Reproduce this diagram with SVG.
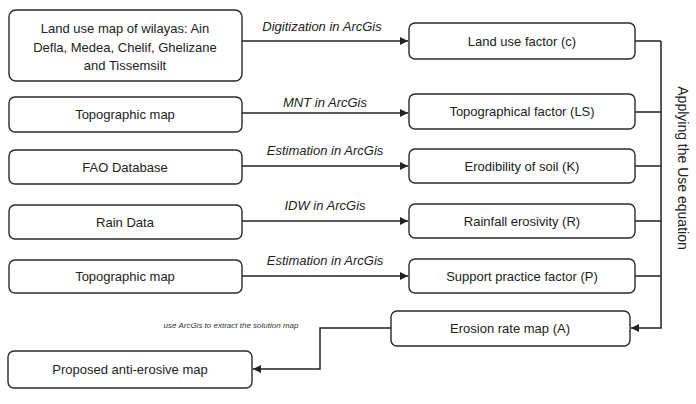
<svg xmlns="http://www.w3.org/2000/svg" width="696" height="404" viewBox="0 0 696 404">
<defs>
<style>
.box{fill:#fff;stroke:#2a2a2a;stroke-width:1.4}
.t{font-family:"Liberation Sans",Arial,sans-serif;font-size:13px;fill:#222;text-anchor:middle}
.lbl{font-family:"Liberation Sans",Arial,sans-serif;font-size:13px;font-style:italic;fill:#222;text-anchor:middle}
.small{font-family:"Liberation Sans",Arial,sans-serif;font-size:8px;font-style:italic;fill:#333;text-anchor:middle}
.c{fill:none;stroke:#222;stroke-width:1.5}
</style>
<marker id="arr" viewBox="0 0 10 10" refX="10" refY="5" markerWidth="8" markerHeight="8" markerUnits="userSpaceOnUse" orient="auto">
<path d="M0,0 L10,5 L0,10 z" fill="#222"/>
</marker>
</defs>
<rect width="696" height="404" fill="#fff"/>
<g id="connectors">
<line class="c" x1="242" y1="41" x2="408" y2="41" marker-end="url(#arr)"/>
<line class="c" x1="242" y1="113" x2="408" y2="113" marker-end="url(#arr)"/>
<line class="c" x1="242" y1="166" x2="408" y2="166" marker-end="url(#arr)"/>
<line class="c" x1="242" y1="221" x2="408" y2="221" marker-end="url(#arr)"/>
<line class="c" x1="242" y1="276" x2="408" y2="276" marker-end="url(#arr)"/>
<path class="c" d="M635,41 H661 M635,112 H661 M635,166 H661 M635,221 H661 M635,276 H661"/>
<path class="c" d="M661,41 V328 H631" marker-end="url(#arr)"/>
<path class="c" d="M391,328 H320 V369 H253" marker-end="url(#arr)"/>
<text class="lbl" x="322" y="31">Digitization in ArcGis</text>
<text class="lbl" x="325" y="107">MNT in ArcGis</text>
<text class="lbl" x="325" y="155">Estimation in ArcGis</text>
<text class="lbl" x="325" y="210">IDW in ArcGis</text>
<text class="lbl" x="325" y="265">Estimation in ArcGis</text>
<text class="small" x="231" y="328">use ArcGis to extract the solution map</text>
<text transform="translate(678,168) rotate(90)" font-family="Liberation Sans, Arial, sans-serif" font-size="14" fill="#222" text-anchor="middle">Applying the Use equation</text>
</g>
<g id="n-landuse-map">
<rect class="box" x="9" y="10" width="233" height="71" rx="7"/>
<text class="t" x="125" y="33">Land use map of wilayas: Ain</text>
<text class="t" x="125" y="52">Defla, Medea, Chelif, Ghelizane</text>
<text class="t" x="125" y="70">and Tissemsilt</text>
</g>
<g id="n-topo1">
<rect class="box" x="9" y="97" width="233" height="35" rx="6"/>
<text class="t" x="125" y="119">Topographic map</text>
</g>
<g id="n-fao">
<rect class="box" x="9" y="150" width="233" height="34" rx="6"/>
<text class="t" x="125" y="172">FAO Database</text>
</g>
<g id="n-rain">
<rect class="box" x="9" y="205" width="233" height="34" rx="6"/>
<text class="t" x="125" y="227">Rain Data</text>
</g>
<g id="n-topo2">
<rect class="box" x="9" y="260" width="233" height="33" rx="6"/>
<text class="t" x="125" y="281">Topographic map</text>
</g>
<g id="n-proposed">
<rect class="box" x="8" y="351" width="244" height="37" rx="6"/>
<text class="t" x="130" y="374">Proposed anti-erosive map</text>
</g>
<g id="n-c">
<rect class="box" x="409" y="23" width="226" height="36" rx="6"/>
<text class="t" x="522" y="46">Land use factor (c)</text>
</g>
<g id="n-ls">
<rect class="box" x="409" y="94" width="226" height="35" rx="6"/>
<text class="t" x="522" y="116">Topographical factor (LS)</text>
</g>
<g id="n-k">
<rect class="box" x="409" y="149" width="226" height="34" rx="6"/>
<text class="t" x="522" y="171">Erodibility of soil (K)</text>
</g>
<g id="n-r">
<rect class="box" x="409" y="204" width="226" height="34" rx="6"/>
<text class="t" x="522" y="226">Rainfall erosivity (R)</text>
</g>
<g id="n-p">
<rect class="box" x="409" y="259" width="226" height="34" rx="6"/>
<text class="t" x="522" y="281">Support practice factor (P)</text>
</g>
<g id="n-a">
<rect class="box" x="391" y="311" width="239" height="35" rx="6"/>
<text class="t" x="510" y="333">Erosion rate map (A)</text>
</g>
</svg>
